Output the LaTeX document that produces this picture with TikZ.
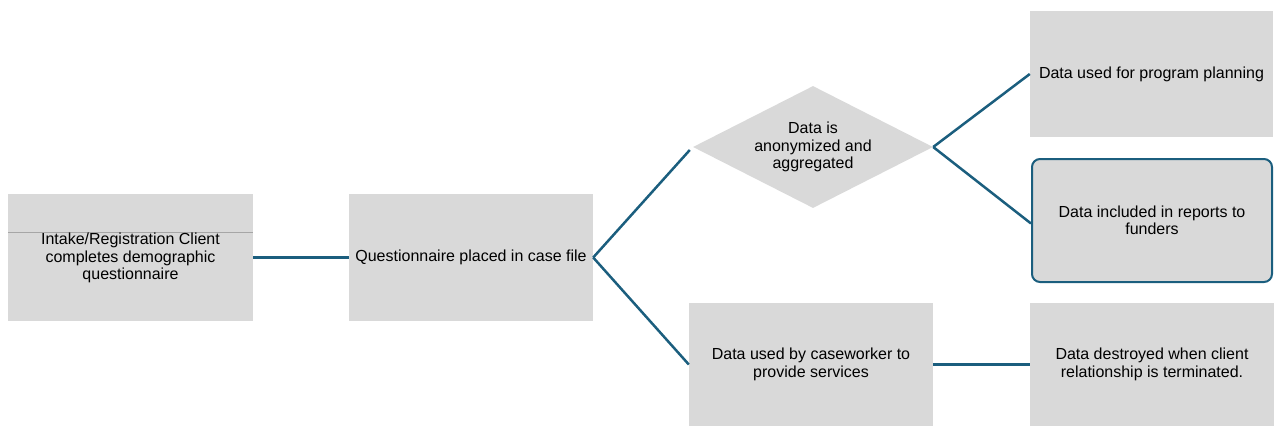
\documentclass[tikz,border=0pt]{standalone}
\usepackage{fontspec}
\setmainfont{Liberation Sans}
\usetikzlibrary{shapes.geometric}
\definecolor{boxgray}{HTML}{D9D9D9}
\definecolor{linkblue}{HTML}{1B5E7E}
\definecolor{ruleGray}{HTML}{A6A6A6}
\tikzset{
  stepbox/.style={rectangle, fill=boxgray, inner sep=0pt, align=center,
    font=\fontsize{16}{17.5}\selectfont, minimum width=244pt, minimum height=125pt},
  decision/.style={diamond, fill=boxgray, inner sep=0pt, align=center,
    font=\fontsize{16}{17.5}\selectfont, minimum width=240pt, minimum height=122pt, aspect=1.97},
  link/.style={draw=linkblue, line width=2.5pt}
}
\begin{document}
\begin{tikzpicture}[x=1pt,y=-1pt]
  \useasboundingbox (0,0) rectangle (1274,426);
  % boxes of the flow
  \node[stepbox, minimum width=245pt, minimum height=127pt] (intake) at (130.5,257.5) {};
  \draw[ruleGray, line width=1pt] (8,232) -- (253,232);
  \node[align=center, font=\fontsize{16}{17.5}\selectfont] at (130.5,258)
    {Intake/Registration Client\\completes demographic\\questionnaire};
  \node[stepbox, minimum height=127pt] (file) at (471,257.5) {Questionnaire placed in case file};
  \node[decision] (anon) at (813,147) {Data is\\anonymized and\\aggregated};
  \node[stepbox, minimum width=243pt, minimum height=126pt] (plan) at (1151.5,74) {Data used for program planning};
  \node[stepbox, minimum width=240pt, minimum height=123pt, draw=linkblue, line width=2pt,
        rounded corners=8pt] (report) at (1152,220.5) {Data included in reports to\\funders};
  \node[stepbox, minimum height=123pt] (casework) at (811,364.5) {Data used by caseworker to\\provide services};
  \node[stepbox, minimum height=123pt] (destroy) at (1152,364.5) {Data destroyed when client\\relationship is terminated.};
  % connectors
  \draw[link] (intake.east) -- (file.east -| file.west);
  \draw[link] (file.east) -- ([xshift=-3pt,yshift=-3pt]anon.west);
  \draw[link] (file.east) -- (casework.west);
  \draw[link] (anon.east) -- (plan.west);
  \draw[link] (anon.east) -- ([yshift=-3pt]report.west);
  \draw[link] (casework.east) -- (destroy.west);
\end{tikzpicture}
\end{document}
